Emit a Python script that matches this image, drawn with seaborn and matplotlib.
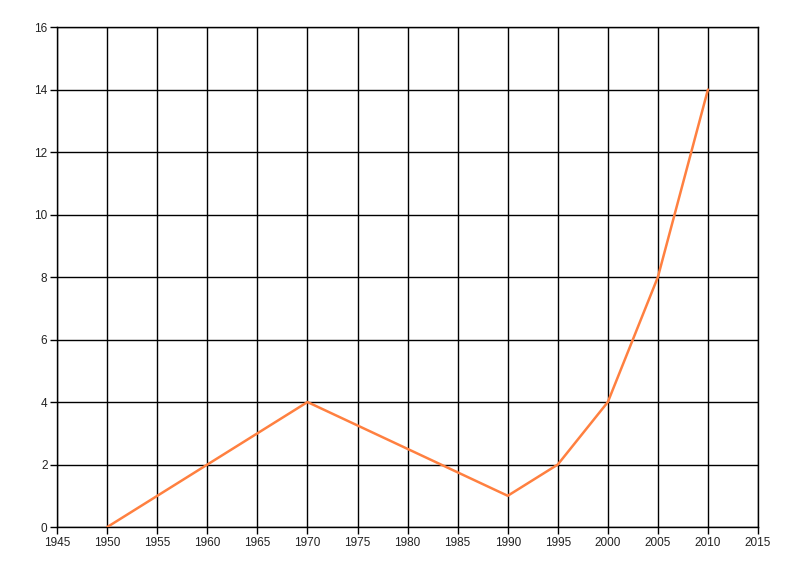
import pandas as pd
import matplotlib
matplotlib.use("Agg")
import matplotlib.pyplot as plt
import seaborn as sns

# data
years = [1950, 1970, 1990, 1995, 2000, 2005, 2010]
values = [0, 4, 1, 2, 4, 8, 14]

x_ticks = list(range(1945, 2016, 5))
y_ticks = list(range(0, 17, 2))

sns.set_style("white")
plt.rcParams["font.family"] = ["Liberation Sans", "DejaVu Sans"]

df = pd.DataFrame({"year": years, "value": values})

fig = plt.figure(figsize=(8, 5.76), dpi=100)
ax = fig.add_axes([0.0715, 0.085, 0.876, 0.868])

sns.lineplot(data=df, x="year", y="value", color="#FF8040", linewidth=1.8, ax=ax, zorder=3)

ax.set_xlim(1945, 2015)
ax.set_ylim(0, 16)
ax.set_xticks(x_ticks)
ax.set_yticks(y_ticks)
ax.grid(True, color="black", linewidth=1)
ax.set_axisbelow(True)
ax.set_xlabel("")
ax.set_ylabel("")

for side in ["left", "bottom", "top", "right"]:
    ax.spines[side].set_visible(True)
    ax.spines[side].set_color("black")
    ax.spines[side].set_linewidth(1)

ax.tick_params(axis="both", direction="out", length=5, width=1, color="black",
               labelsize=8.5, labelcolor="#222222", pad=2, left=True, bottom=True)

fig.savefig("out.png", dpi=100)
